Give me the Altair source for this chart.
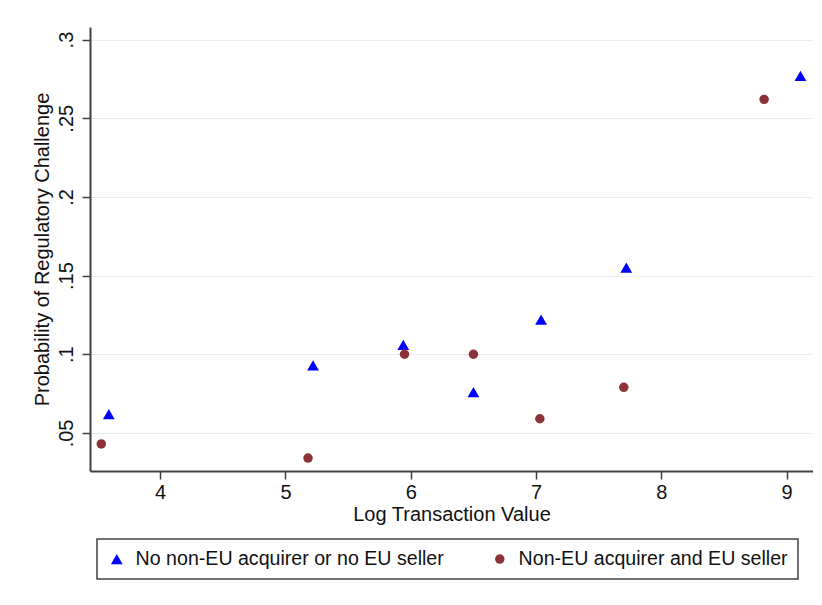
import altair as alt
import pandas as pd

# Series 1: No non-EU acquirer or no EU seller (blue triangles)
s1_x = [3.59, 5.22, 5.94, 6.50, 7.04, 7.72, 9.11]
s1_y = [0.062, 0.093, 0.106, 0.076, 0.122, 0.155, 0.277]
# Series 2: Non-EU acquirer and EU seller (maroon dots)
s2_x = [3.53, 5.18, 5.95, 6.50, 7.03, 7.70, 8.82]
s2_y = [0.043, 0.034, 0.100, 0.100, 0.059, 0.079, 0.262]

series_names = ["No non-EU acquirer or no EU seller", "Non-EU acquirer and EU seller"]
x_ticks = [4, 5, 6, 7, 8, 9]
y_ticks = [0.05, 0.10, 0.15, 0.20, 0.25, 0.30]

df = pd.DataFrame(
    [{"x": a, "y": b, "group": series_names[0]} for a, b in zip(s1_x, s1_y)]
    + [{"x": a, "y": b, "group": series_names[1]} for a, b in zip(s2_x, s2_y)]
)

FONT = "Liberation Sans"
AXIS_COL = "#404040"

legend = alt.Legend(
    title=None,
    orient="none",
    legendX=7,
    legendY=512,
    direction="horizontal",
    strokeColor=AXIS_COL,
    padding=10,
    columnPadding=46,
    labelOffset=9,
    symbolSize=75,
    labelLimit=400,
)

chart = (
    alt.Chart(df)
    .mark_point(filled=True, opacity=1)
    .encode(
        x=alt.X(
            "x:Q",
            scale=alt.Scale(domain=[3.44, 9.21], nice=False, zero=False),
            axis=alt.Axis(
                values=x_ticks,
                title="Log Transaction Value",
                grid=False,
                tickSize=8,
                labelPadding=3,
                titlePadding=2,
                format="d",
            ),
        ),
        y=alt.Y(
            "y:Q",
            scale=alt.Scale(domain=[0.0258, 0.308], nice=False, zero=False),
            axis=alt.Axis(
                values=y_ticks,
                title="Probability of Regulatory Challenge",
                grid=True,
                tickSize=8,
                labelAngle=270,
                labelAlign="center",
                labelBaseline="bottom",
                labelPadding=6,
                titlePadding=4,
                labelExpr="replace(format(datum.value, '.2~f'), '0.', '.')",
            ),
        ),
        color=alt.Color(
            "group:N",
            scale=alt.Scale(domain=series_names, range=["#0000ff", "#8c3339"]),
            legend=legend,
        ),
        shape=alt.Shape(
            "group:N",
            scale=alt.Scale(domain=series_names, range=["triangle-up", "circle"]),
            legend=legend,
        ),
        size=alt.Size(
            "group:N",
            scale=alt.Scale(domain=series_names, range=[140, 90]),
            legend=None,
        ),
    )
    .properties(
        width=723,
        height=444,
        autosize=alt.AutoSizeParams(type="none"),
        padding={"left": 82, "top": 19, "right": 0, "bottom": 120},
        background="white",
    )
    .configure_view(stroke=None)
    .configure_axis(
        domainColor=AXIS_COL,
        domainWidth=2,
        tickColor=AXIS_COL,
        tickWidth=1.5,
        gridColor="#e6eef0",
        gridWidth=1,
        labelFont=FONT,
        titleFont=FONT,
        labelFontSize=20,
        titleFontSize=20,
        labelColor="#111111",
        titleColor="#111111",
        titleFontWeight="normal",
    )
    .configure_legend(
        labelFont=FONT,
        labelFontSize=19.6,
        labelColor="#111111",
        strokeWidth=1.5,
    )
)

chart.save("out.html", embed_options={"renderer": "svg", "actions": False})
